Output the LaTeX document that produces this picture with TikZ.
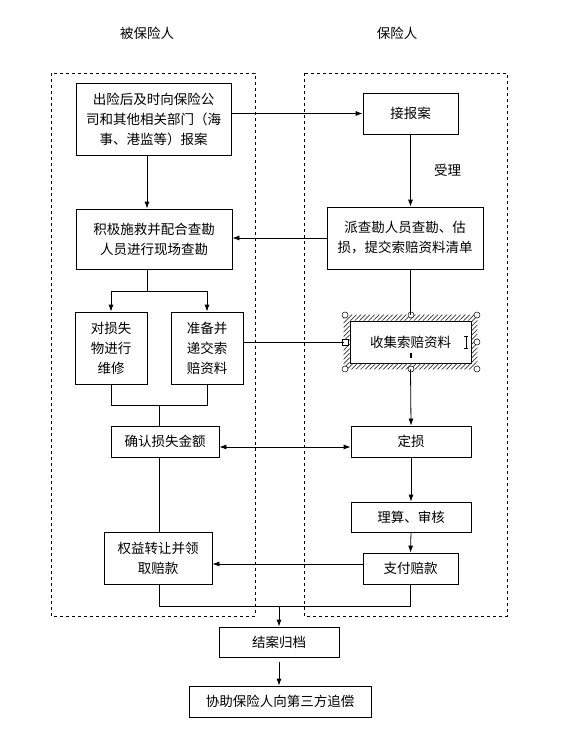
\documentclass[tikz,border=0pt]{standalone}
\usepackage{fontspec}
\newfontfamily\cjk{Noto Sans CJK SC}
\usetikzlibrary{arrows.meta,patterns.meta}

\begin{document}
\begin{tikzpicture}[x=1pt,y=-1pt,
    every node/.style={font=\cjk\fontsize{13.5}{20}\selectfont},
    stepbox/.style={draw,line width=0.8pt,align=center,inner sep=0pt},
    lane/.style={draw,dashed,line width=0.6pt},
    ln/.style={line width=0.8pt},
    arr/.style={ln,-{Latex[length=7pt,width=5pt]}},
    both/.style={ln,{Latex[length=7pt,width=5pt]}-{Latex[length=7pt,width=5pt]}}]
        \useasboundingbox (0,0) rectangle (580,730);
        % lanes
        \node (insuredtitle) at (147,33) {被保险人};
        \node (insurertitle) at (397,33) {保险人};
        \draw[lane] (51,73) rectangle (255,616);
        \draw[lane] (304,73) rectangle (507,616);
        % insured side
        \node[stepbox,minimum width=155pt,minimum height=72pt] (report) at (153.5,119) {出险后及时向保险公\\司和其他相关部门（海\\事、港监等）报案};
        \node[stepbox,minimum width=156pt,minimum height=60pt] (rescue) at (154,239) {积极施救并配合查勘\\人员进行现场查勘};
        \node[stepbox,minimum width=72pt,minimum height=72pt] (repair) at (111,348) {对损失\\物进行\\维修};
        \node[stepbox,minimum width=72pt,minimum height=72pt] (prepare) at (207,348) {准备并\\递交索\\赔资料};
        \node[stepbox,minimum width=108pt,minimum height=31pt] (confirm) at (165,441.5) {确认损失金额};
        \node[stepbox,minimum width=108pt,minimum height=52pt] (transfer) at (158,558) {权益转让并领\\取赔款};
        % insurer side
        \node[stepbox,minimum width=95pt,minimum height=41pt] (accept) at (410.5,113.5) {接报案};
        \node[stepbox,minimum width=156pt,minimum height=62pt] (survey) at (405,238) {派查勘人员查勘、估\\损，提交索赔资料清单};
        \node[stepbox,minimum width=121pt,minimum height=42pt] (collect) at (410.5,342) {收集索赔资料};
        \node[stepbox,minimum width=120pt,minimum height=31pt] (assess) at (411,441.5) {定损};
        \node[stepbox,minimum width=120pt,minimum height=30pt] (adjust) at (411,517) {理算、审核};
        \node[stepbox,minimum width=95pt,minimum height=31pt] (pay) at (410.5,568.5) {支付赔款};
        % common
        \node[stepbox,minimum width=120pt,minimum height=30pt] (close) at (279,642) {结案归档};
        \node[stepbox,minimum width=182pt,minimum height=31pt] (recover) at (280,701.5) {协助保险人向第三方追偿};
        % selection frame round collect
        \coordinate (fnw) at ([shift={(-6,-6)}]collect.north west);
        \coordinate (fse) at ([shift={(6,6)}]collect.south east);
        \fill[pattern={Lines[angle=45,distance=3.2pt,line width=0.7pt]},pattern color=black!80,even odd rule] (fnw) rectangle (fse) (collect.north west) rectangle (collect.south east);
        \foreach \x/\y in {345/315,411/315,477/315,477/342,345/369,411/369,477/369} {
            \draw[fill=white,line width=0.5pt] (\x,\y) circle (3pt);
          }
        \draw[fill=white,line width=0.5pt] (342,339) rectangle (348,345);
        \draw[line width=0.6pt] (464,336) -- (468,336) (466,336) -- (466,348) (464,348) -- (468,348);
        \draw[line width=1.2pt] (411,353) -- (411,358);
        % connectors
        \coordinate (lx) at (147,0);
        \coordinate (split) at (147,291);
        \coordinate (merge) at (159,405);
        \coordinate (join) at (279,606);
        \coordinate (dy) at (0,447);
        \coordinate (py) at (0,564);
        \draw[arr] (report.south -| lx) -- (rescue.north -| lx);
        \draw[ln] (rescue.south -| lx) -- (split);
        \draw[arr] (split) -| (repair.north);
        \draw[arr] (split) -| (prepare.north);
        \draw[ln] (repair.south) |- (merge);
        \draw[ln] (prepare.south) |- (merge);
        \draw[ln] (merge) -- (confirm.north -| merge);
        \draw[ln] (confirm.south -| merge) -- (transfer.north -| merge);
        \draw[ln] (transfer.south -| merge) |- (join);
        \draw[ln] (pay.south) |- (join);
        \draw[arr] (join) -- (close.north);
        \draw[arr,shorten <=5pt] (close.south) -- (close.south |- recover.north);
        \draw[arr] (report.east |- accept.west) -- (accept.west);
        \draw[arr] (accept.south) -- node[right=20pt] (acceptlabel) {受理} (accept.south |- survey.north);
        \draw[arr] (survey.west) -- (survey.west -| rescue.east);
        \draw[ln] (collect.north |- survey.south) -- (collect.north |- fnw);
        \draw[ln] (collect.west -| prepare.east) -- (collect.west -| fnw);
        \draw[arr] (collect.south |- fse) -- (assess.north);
        \draw[both] (confirm.east |- dy) -- (assess.west |- dy);
        \draw[arr] (assess.south) -- (adjust.north);
        \draw[arr] (adjust.south) -- (pay.north);
        \draw[arr] (pay.west |- py) -- (transfer.east |- py);
      \end{tikzpicture}
\end{document}
